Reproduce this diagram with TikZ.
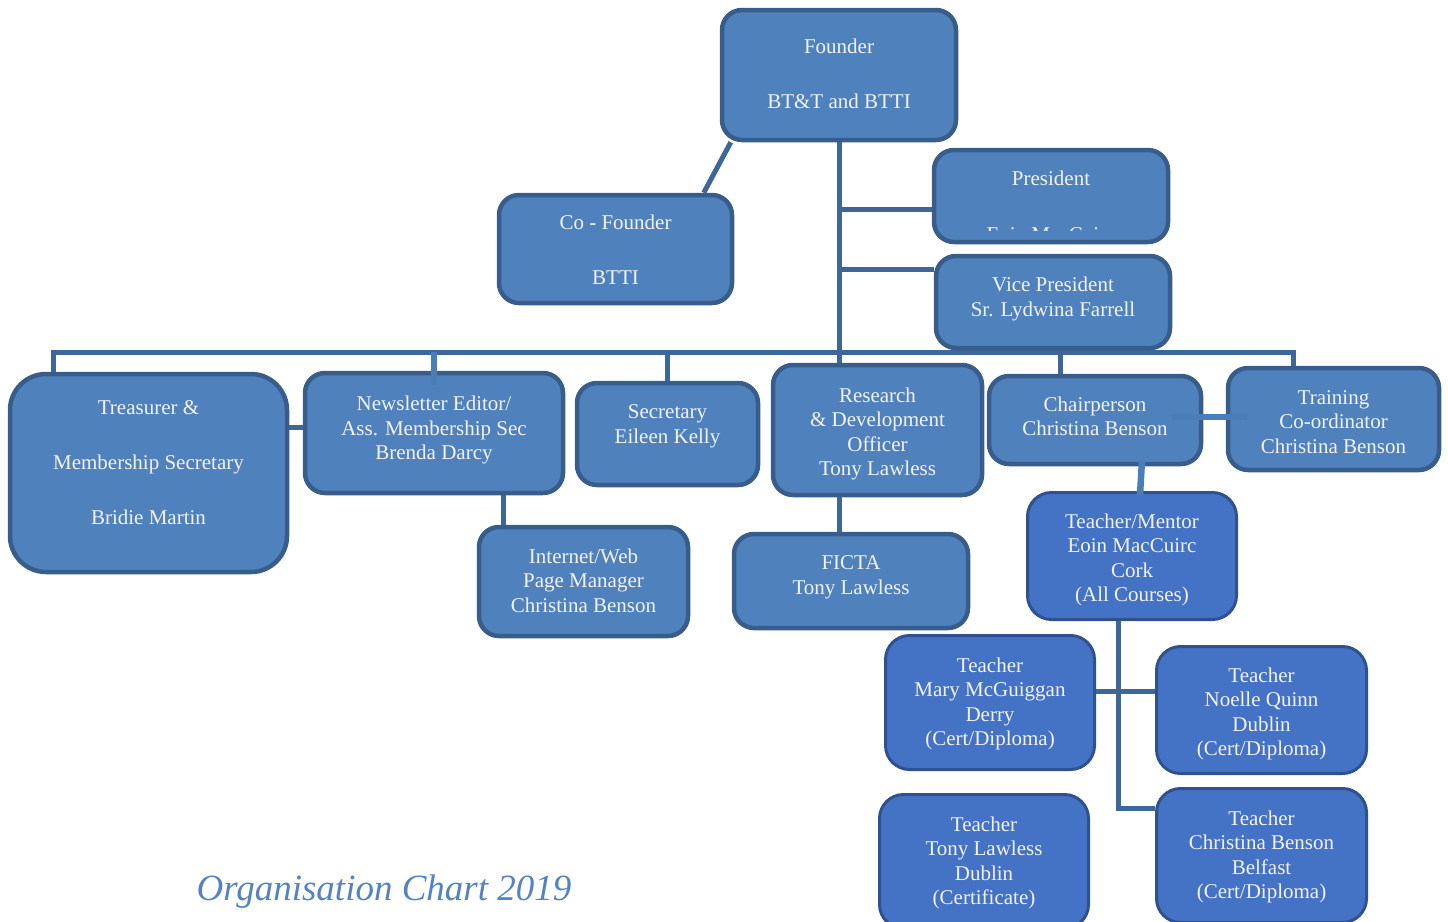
\documentclass[tikz,border=0pt]{standalone}
\usepackage{fontspec}
\setmainfont{Liberation Serif}
\usetikzlibrary{backgrounds}
\definecolor{boxblue}{RGB}{79,129,189}
\definecolor{boxedge}{RGB}{56,93,138}
\definecolor{teachblue}{RGB}{68,114,196}
\definecolor{teachedge}{RGB}{47,82,143}
\definecolor{wireblue}{RGB}{62,103,152}
\definecolor{stubblue}{RGB}{74,126,187}
\definecolor{titleblue}{RGB}{84,130,194}

\begin{document}
\begin{tikzpicture}
  [x=1pt,y=-1pt,
   box/.style={rectangle,rounded corners=20pt,draw=boxedge,fill=boxblue,line width=4.5pt,inner sep=0pt},
   teach/.style={box,draw=teachedge,fill=teachblue,line width=3pt,rounded corners=24pt},
   txt/.style={align=center,text=white!95!black,font=\fontsize{21}{24.5}\selectfont,inner sep=0pt},
   wire/.style={draw=wireblue,line width=5pt},
   stub/.style={draw=stubblue,line width=6.5pt}]
  \useasboundingbox (0,0) rectangle (1448,921);

  \node[box,minimum width=234pt,minimum height=130pt] (founder) at (839,75) {};
  \node[box,minimum width=233pt,minimum height=108pt] (cofounder) at (615.5,249) {};
  \node[box,minimum width=234pt,minimum height=92pt] (pres) at (1051,196) {};
  \node[box,minimum width=234pt,minimum height=92pt] (vp) at (1053,302) {};
  \node[box,rounded corners=36pt,minimum width=277pt,minimum height=198pt] (treas) at (148.5,473) {};
  \node[box,minimum width=258pt,minimum height=120pt] (newsletter) at (434,433) {};
  \node[box,minimum width=181pt,minimum height=102pt] (secretary) at (667.5,434) {};
  \node[box,minimum width=209pt,minimum height=130pt] (research) at (877.5,430) {};
  \node[box,minimum width=212pt,minimum height=88pt] (chair) at (1095,420) {};
  \node[box,minimum width=211pt,minimum height=102pt] (training) at (1333.5,419) {};
  \node[box,minimum width=209pt,minimum height=109pt] (internet) at (583.5,581.5) {};
  \node[box,minimum width=234pt,minimum height=94pt] (ficta) at (851,581) {};
  \node[teach,minimum width=209pt,minimum height=127pt] (mentor) at (1132,556) {};
  \node[teach,minimum width=209pt,minimum height=134pt] (tmary) at (990,702.5) {};
  \node[teach,minimum width=210pt,minimum height=127pt] (tnoelle) at (1261.5,710) {};
  \node[teach,minimum width=209pt,minimum height=134pt] (ttony) at (984,861.5) {};
  \node[teach,minimum width=210pt,minimum height=134pt] (tchristina) at (1261.5,855.5) {};

  \begin{scope}[on background layer]
    \draw[wire] ([xshift=11pt]founder.south west) -- ([xshift=207pt]cofounder.north west);
    \draw[wire] (founder.south) -- (founder.south |- research.north);
    \draw[wire] ([yshift=-13pt]pres.west) -- ([yshift=-13pt]pres.west -| founder.south);
    \draw[wire] ([yshift=33pt]vp.west) -- ([yshift=33pt]vp.west -| founder.south);
    \coordinate (bar west) at (53,352);
    \coordinate (bar east) at (1293,352);
    \draw[wire] (treas.north -| bar west) -- (bar west) -- (bar east) -- (bar east |- training.north);
    \foreach \n in {newsletter,secretary}
      \draw[wire] (\n.north |- bar west) -- (\n.north);
    \draw[wire] ([xshift=7pt]vp.south) -- ([xshift=7pt]vp.south |- chair.north);
    \draw[wire] ([yshift=46pt]treas.east) -- ([yshift=46pt]treas.east -| newsletter.west);
    \draw[wire] ([xshift=-80pt]internet.north) -- ([xshift=-80pt]internet.north |- newsletter.south);
    \draw[wire] (founder.south |- research.south) -- (founder.south |- ficta.north);
    \draw[wire] ([xshift=-14pt]mentor.south) |- ([yshift=47.5pt]tchristina.west);
    \draw[wire] ([yshift=11.5pt]tmary.east) -- ([yshift=11.5pt]tmary.east -| tnoelle.west);
  \end{scope}

  \draw[stub] (newsletter.north |- bar west) -- ([yshift=-14pt]newsletter.north);
  \draw[stub] ([xshift=-31pt,yshift=3pt]chair.east) -- ([xshift=21pt,yshift=3pt]chair.east -| training.west);
  \draw[stub] ([xshift=47pt,yshift=6pt]chair.south) -- ([xshift=8pt,yshift=-4pt]mentor.north);

  \node[txt] (founder t) at (839,73.5) {Founder\\[30.5pt]BT\&T and BTTI};
  \node[txt] (cofounder t) at (615.5,249.5) {Co - Founder\\[30.5pt]BTTI};
  \node[txt] (pres t) at (1051,178) {President};
  \begin{scope}
    \clip (pres.north west) rectangle (1170,230);
    \node[txt] (pres name) at (1051,235) {Eoin MacCuirc};
  \end{scope}
  \node[txt] (vp t) at (1053,299) {Vice President\\Sr. Lydwina Farrell};
  \node[txt] (treas t) at (148.5,463) {Treasurer \&\\[30.5pt]Membership Secretary\\[30.5pt]Bridie Martin};
  \node[txt] (newsletter t) at (434,430) {Newsletter Editor/\\Ass. Membership Sec\\Brenda Darcy};
  \node[txt] (secretary t) at (667.5,426.5) {Secretary\\Eileen Kelly};
  \node[txt] (research t) at (877.5,434) {Research\\\& Development\\Officer\\Tony Lawless};
  \node[txt] (chair t) at (1095,416.5) {Chairperson\\Christina Benson};
  \node[txt] (training t) at (1333.5,422) {Training\\Co-ordinator\\Christina Benson};
  \node[txt] (internet t) at (583.5,580.5) {Internet/Web\\Page Manager\\Christina Benson};
  \node[txt] (ficta t) at (851,577.5) {FICTA\\Tony Lawless};
  \node[txt] (mentor t) at (1132,560) {Teacher/Mentor\\Eoin MacCuirc\\Cork\\(All Courses)};
  \node[txt] (tmary t) at (990,704) {Teacher\\Mary McGuiggan\\Derry\\(Cert/Diploma)};
  \node[txt] (tnoelle t) at (1261.5,714) {Teacher\\Noelle Quinn\\Dublin\\(Cert/Diploma)};
  \node[txt] (ttony t) at (984,863) {Teacher\\Tony Lawless\\Dublin\\(Certificate)};
  \node[txt] (tchristina t) at (1261.5,857) {Teacher\\Christina Benson\\Belfast\\(Cert/Diploma)};

  \node[text=titleblue,font=\itshape\fontsize{37}{40}\selectfont,inner sep=0pt] (chart title) at (384,892) {Organisation Chart 2019};
\end{tikzpicture}
\end{document}
